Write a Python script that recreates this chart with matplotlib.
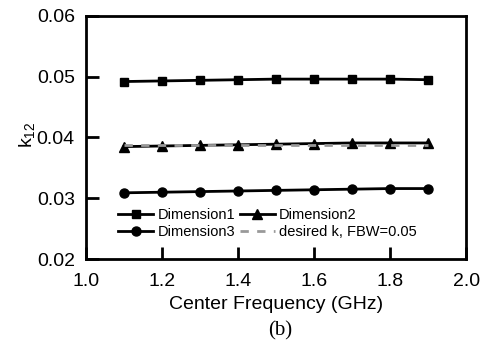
import matplotlib
matplotlib.use('Agg')
import matplotlib.pyplot as plt
from matplotlib import ticker

plt.rcParams['font.family'] = ['Liberation Sans', 'DejaVu Sans']
plt.rcParams['mathtext.fontset'] = 'custom'
plt.rcParams['mathtext.rm'] = 'Liberation Sans'
plt.rcParams['mathtext.it'] = 'Liberation Sans'

freq = [1.1, 1.2, 1.3, 1.4, 1.5, 1.6, 1.7, 1.8, 1.9]
dim1 = [0.0492, 0.0493, 0.0494, 0.0495, 0.0496, 0.0496, 0.0496, 0.0496, 0.0495]
dim2 = [0.0385, 0.0386, 0.0387, 0.0388, 0.0389, 0.0390, 0.0391, 0.0391, 0.0391]
dim3 = [0.0309, 0.0310, 0.0311, 0.0312, 0.0313, 0.0314, 0.0315, 0.0316, 0.0316]
desired_k = [0.0388] * len(freq)

fig = plt.figure(figsize=(4.83, 3.45), dpi=100)
ax = fig.add_axes([0.178, 0.249, 0.787, 0.705])

ax.plot(freq, desired_k, '--', color='#999999', linewidth=2, dashes=(3, 3),
        label='desired k, FBW=0.05', zorder=3)
ax.plot(freq, dim1, 's-', color='black', linewidth=2, markersize=6, label='Dimension1', zorder=2)
ax.plot(freq, dim2, '^-', color='black', linewidth=2, markersize=7, label='Dimension2', zorder=2)
ax.plot(freq, dim3, 'o-', color='black', linewidth=2, markersize=6.5, label='Dimension3', zorder=2)

ax.set_xlim(1.0, 2.0)
ax.set_ylim(0.02, 0.06)
ax.xaxis.set_major_locator(ticker.MultipleLocator(0.2))
ax.xaxis.set_major_formatter(ticker.FormatStrFormatter('%.1f'))
ax.yaxis.set_major_locator(ticker.MultipleLocator(0.01))
ax.yaxis.set_major_formatter(ticker.FormatStrFormatter('%.2f'))
ax.tick_params(direction='in', length=9, width=2, labelsize=14)
ax.tick_params(axis='x', pad=10)
ax.tick_params(axis='y', pad=8)
for s in ax.spines.values():
    s.set_linewidth(2)

ax.set_xlabel('Center Frequency (GHz)', fontsize=14, labelpad=4)
ax.set_ylabel(r'k$_{12}$', fontsize=14)
ax.yaxis.set_label_coords(-0.13, 0.51)

handles, labels = ax.get_legend_handles_labels()
order = [1, 3, 2, 0]
ax.legend([handles[i] for i in order], [labels[i] for i in order],
          ncol=2, loc='lower left', bbox_to_anchor=(0.07, 0.06), frameon=False,
          fontsize=10.5, handlelength=2.4, handletextpad=0.3, columnspacing=0.3,
          labelspacing=0.2, borderaxespad=0)

fig.text(0.58, 0.042, '(b)', fontsize=15, family='Liberation Serif', ha='center', va='center')

fig.savefig('out.png', dpi=100)
